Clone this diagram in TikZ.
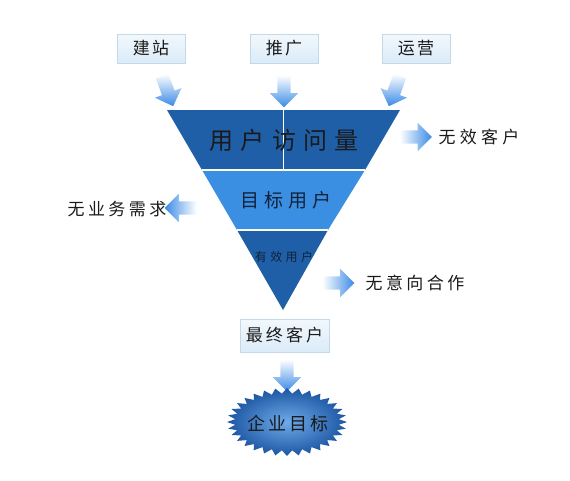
\documentclass[tikz,border=0pt]{standalone}
\usepackage{fontspec}
\newfontfamily\cjk{Noto Sans CJK SC}
\usetikzlibrary{shapes.arrows}
\definecolor{bandDark}{HTML}{1F5FA8}
\definecolor{bandMid}{HTML}{3B8FE2}
\definecolor{arrowBlue}{HTML}{3A8AE6}
\definecolor{boxTop}{HTML}{F2F8FD}
\definecolor{boxBot}{HTML}{DAEBF8}
\definecolor{boxLine}{HTML}{C3D9EA}
\definecolor{txt}{HTML}{1A1A1A}
\definecolor{txtNavy}{HTML}{122238}
\definecolor{starIn}{HTML}{6FAAEA}
\definecolor{starOut}{HTML}{1C56A2}
\makeatletter
\def\spaced#1#2{\def\sp@k{#1}\sp@first#2\sp@end}
\def\sp@first#1{#1\sp@next}
\def\sp@next#1{\ifx#1\sp@end\else\kern\sp@k\relax#1\expandafter\sp@next\fi}
\def\sp@end{}
\makeatother
\begin{document}
\begin{tikzpicture}[x=1pt,y=-1pt,
  lab/.style={font={\cjk\fontsize{17}{20}\selectfont}, text=txt, inner sep=0pt},
  srcbox/.style={draw=boxLine, top color=boxTop, bottom color=boxBot,
    minimum width=68pt, minimum height=29pt, inner sep=0pt,
    font={\cjk\fontsize{17}{20}\selectfont}, text=txt},
  fat/.style={single arrow, single arrow head extend=7.5pt, inner xsep=0pt, inner ysep=6.5pt,
    minimum height=32pt, draw=none},
  fatright/.style={fat, left color=white, right color=arrowBlue},
  fatleft/.style={fat, rotate=180, left color=arrowBlue, right color=white},
  fatdown/.style={fat, top color=white, bottom color=arrowBlue},
  sep/.style={white, line width=2pt}
]
\useasboundingbox (0,0) rectangle (570,480);

% source boxes
\node[srcbox] (b1) at (151,48.5) {\spaced{0.12em}{建站}};
\node[srcbox] (b2) at (284,48.5) {\spaced{0.12em}{推广}};
\node[srcbox] (b3) at (416,48.5) {\spaced{0.12em}{运营}};

% funnel
\fill[bandDark] (167,110) -- (400,110) -- (365,170) -- (202,170) -- cycle;
\fill[bandMid] (202,170) -- (365,170) -- (328,230) -- (237,230) -- cycle;
\fill[bandDark] (237,230) -- (328,230) -- (283,310) -- cycle;
\draw[sep] (202,170) -- (365,170);
\draw[sep] (237,230) -- (328,230);
\draw[white, line width=1.2pt] (283.5,110) -- (283.5,170);
\coordinate (apex) at (283,310);

\node[inner sep=0pt, font={\cjk\fontsize{24}{28}\selectfont}, text=txt] (f1) at (284,140) {\spaced{0.3em}{用户访问量}};
\node[inner sep=0pt, font={\cjk\fontsize{19}{22}\selectfont}, text=txtNavy] (f2) at (286,200) {\spaced{0.25em}{目标用户}};
\node[inner sep=0pt, font={\cjk\fontsize{12}{14}\selectfont}, text=txtNavy] (f3) at (284,257) {\spaced{0.28em}{有效用户}};

% input arrows
\node[fatdown, rotate=-70] (a1) at (166.5,88) {};
\node[fatdown, rotate=-90] (a2) at (284,88) {};
\node[fatdown, rotate=250] (a3) at (395.5,88) {};

% outputs
\node[fatright] (o1) at (412.5,137) {};
\node[lab] (n1) at (479,137) {\spaced{0.25em}{无效客户}};
\node[fatleft] (o2) at (184,208) {};
\node[lab] (n2) at (117,209) {\spaced{0.2em}{无业务需求}};
\node[fatright] (o3) at (335,283) {};
\node[lab] (n3) at (415,283) {\spaced{0.2em}{无意向合作}};

% final customer
\node[srcbox, minimum width=89pt, minimum height=33pt] (fin) at (284.5,335.5) {\spaced{0.18em}{最终客户}};
\node[fatdown, rotate=-90] (a4) at (287,372) {};

% goal starburst
\shade[shading=radial, inner color=starIn, outer color=starOut]
  (347,422) \foreach \k in {0,...,31} {
    -- ({287+60*cos(\k*11.25)},{422+34*sin(\k*11.25)})
    -- ({287+52*cos(\k*11.25+5.625)},{422+28.5*sin(\k*11.25+5.625)}) } -- cycle;
\node[inner sep=0pt, font={\cjk\fontsize{18}{20}\selectfont}, text=txt] (goal) at (288,424) {\spaced{0.15em}{企业目标}};
\end{tikzpicture}
\end{document}
